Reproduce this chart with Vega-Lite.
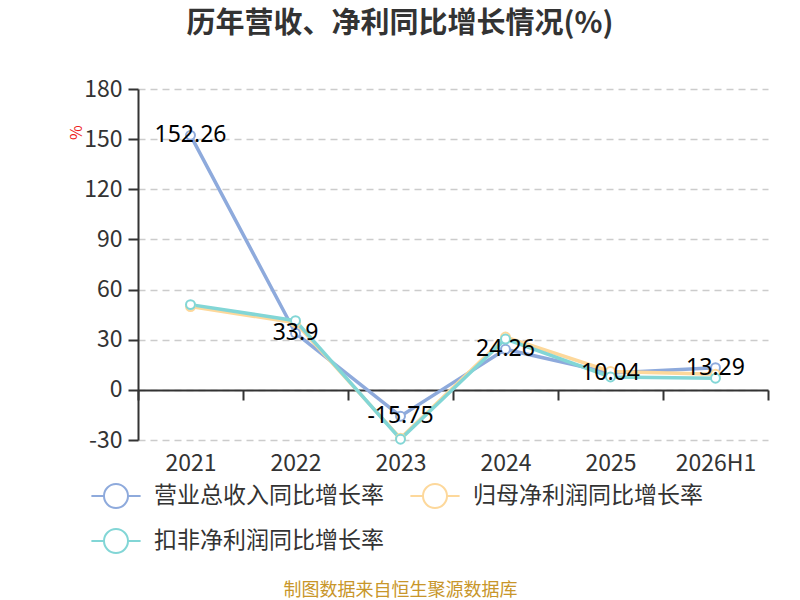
{
  "$schema": "https://vega.github.io/schema/vega-lite/v6.json",
  "width": 630,
  "height": 351,
  "autosize": "none",
  "padding": {"left": 138, "top": 89, "right": 32, "bottom": 160},
  "background": "white",
  "title": {
    "text": "历年营收、净利同比增长情况(%)",
    "fontSize": 29,
    "fontWeight": "bold",
    "color": "#333333",
    "font": "Noto Sans CJK SC",
    "anchor": "middle",
    "dx": -53,
    "offset": 39
  },
  "config": {
    "font": "Noto Sans CJK SC",
    "view": {"stroke": null}
  },
  "data": {
    "values": [
      {"year": "2021", "series": "营业总收入同比增长率", "value": 152.26},
      {"year": "2022", "series": "营业总收入同比增长率", "value": 33.9},
      {"year": "2023", "series": "营业总收入同比增长率", "value": -15.75},
      {"year": "2024", "series": "营业总收入同比增长率", "value": 24.26},
      {"year": "2025", "series": "营业总收入同比增长率", "value": 10.04},
      {"year": "2026H1", "series": "营业总收入同比增长率", "value": 13.29},
      {"year": "2021", "series": "归母净利润同比增长率", "value": 49.8},
      {"year": "2022", "series": "归母净利润同比增长率", "value": 40.2},
      {"year": "2023", "series": "归母净利润同比增长率", "value": -29.0},
      {"year": "2024", "series": "归母净利润同比增长率", "value": 31.6},
      {"year": "2025", "series": "归母净利润同比增长率", "value": 11.0},
      {"year": "2026H1", "series": "归母净利润同比增长率", "value": 9.3},
      {"year": "2021", "series": "扣非净利润同比增长率", "value": 51.0},
      {"year": "2022", "series": "扣非净利润同比增长率", "value": 41.4},
      {"year": "2023", "series": "扣非净利润同比增长率", "value": -29.5},
      {"year": "2024", "series": "扣非净利润同比增长率", "value": 30.4},
      {"year": "2025", "series": "扣非净利润同比增长率", "value": 7.7},
      {"year": "2026H1", "series": "扣非净利润同比增长率", "value": 7.0}
    ]
  },
  "encoding": {
    "x": {
      "field": "year",
      "type": "nominal",
      "sort": null,
      "bandPosition": 0.5,
      "scale": {"type": "band", "paddingInner": 0, "paddingOuter": 0},
      "axis": {
        "orient": "bottom",
        "offset": -50,
        "labelAngle": 0,
        "domainColor": "#333333",
        "domainWidth": 2,
        "tickColor": "#333333",
        "tickWidth": 2,
        "tickSize": 10,
        "tickBand": "extent",
        "labelFontSize": 23,
        "labelColor": "#333333",
        "labelPadding": 52,
        "grid": false,
        "title": "制图数据来自恒生聚源数据库",
        "titleFontSize": 18,
        "titleFontWeight": "normal",
        "titleColor": "#c8962a",
        "titleX": 262,
        "titleY": 200,
        "titleAlign": "center",
        "titleBaseline": "middle",
        "titleAnchor": null
      }
    },
    "y": {
      "field": "value",
      "type": "quantitative",
      "scale": {"domain": [-30, 180], "nice": false, "zero": false},
      "axis": {
        "values": [-30, 0, 30, 60, 90, 120, 150, 180],
        "labelExpr": "'' + datum.value",
        "domainColor": "#333333",
        "domainWidth": 2,
        "tickColor": "#333333",
        "tickWidth": 2,
        "tickSize": 10,
        "labelFontSize": 23,
        "labelColor": "#333333",
        "labelPadding": 6,
        "grid": true,
        "gridColor": "#cccccc",
        "gridDash": [7, 5],
        "gridWidth": 1.5,
        "title": "%",
        "titleFontSize": 16,
        "titleFontWeight": "normal",
        "titleColor": "#ee2222",
        "titleAngle": -90,
        "titleX": -62,
        "titleY": 43,
        "titleAlign": "center",
        "titleBaseline": "middle"
      }
    },
    "color": {
      "field": "series",
      "type": "nominal",
      "sort": null,
      "scale": {
        "domain": ["营业总收入同比增长率", "归母净利润同比增长率", "扣非净利润同比增长率"],
        "range": ["#8eaadc", "#fdd89b", "#82d6d6"]
      },
      "legend": {
        "orient": "none",
        "legendX": -35,
        "legendY": 394,
        "direction": "horizontal",
        "columns": 2,
        "title": null,
        "padding": 0,
        "labelFontSize": 23,
        "labelColor": "#333333",
        "labelLimit": 400,
        "labelOffset": 25,
        "columnPadding": 22,
        "rowPadding": 13,
        "symbolSize": 576,
        "symbolType": "M-2.05,0L-1,0M1,0L2.05,0M-1,0A1,1,0,1,1,1,0A1,1,0,1,1,-1,0Z",
        "symbolStrokeWidth": 2,
        "symbolFillColor": "white",
        "symbolOpacity": 1
      }
    }
  },
  "layer": [
    {
      "mark": {"type": "line", "strokeWidth": 3.5}
    },
    {
      "mark": {"type": "point", "filled": false, "fill": "white", "opacity": 1, "size": 80, "strokeWidth": 2}
    },
    {
      "transform": [{"filter": "datum.series === '营业总收入同比增长率'"}],
      "mark": {"type": "text", "fontSize": 23, "color": "#000000", "align": "center", "baseline": "middle", "font": "Noto Sans"},
      "encoding": {
        "text": {"field": "value", "type": "nominal"},
        "color": {"value": "#000000"}
      }
    }
  ]
}
